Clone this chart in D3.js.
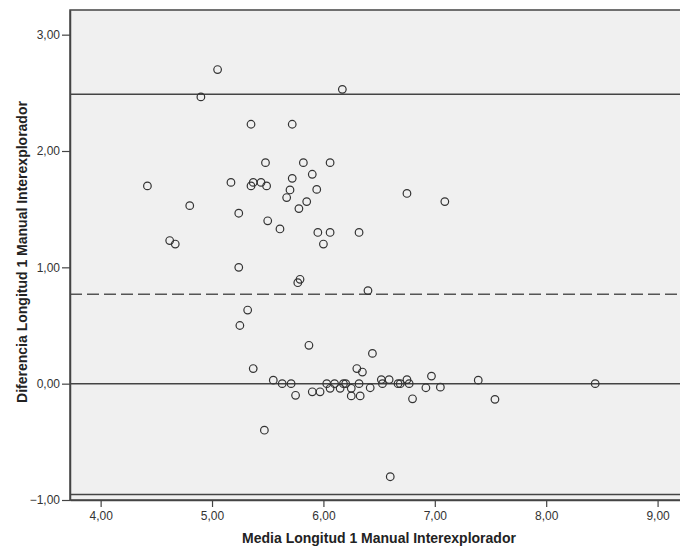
<!DOCTYPE html>
<html>
<head>
<meta charset="utf-8">
<script src="https://cdn.jsdelivr.net/npm/d3@7"></script>
<style>
  body { margin: 0; background: #fff; }
  text { font-family: Arial, "Liberation Sans", sans-serif; }
</style>
</head>
<body>
<svg id="bland-altman"></svg>
<script>
// datos (media, diferencia)
var media = [5.05, 4.90, 6.17, 5.35, 5.72,
  4.42, 5.17, 5.35, 5.37, 5.44, 5.49,
  5.48, 5.82, 6.06, 5.90, 5.72, 5.70, 5.94, 5.67, 5.85, 5.78,
  4.80, 5.24, 5.50, 5.61, 5.95, 6.06, 6.00, 4.62, 4.67, 5.24,
  6.75, 7.09, 6.32,
  5.77, 5.79,
  5.32, 5.25, 5.87, 5.37, 5.55, 5.63, 5.71, 5.75, 5.90, 5.97, 5.47,
  6.40, 6.44, 6.30, 6.35,
  6.03, 6.06, 6.10, 6.15, 6.18, 6.20, 6.25, 6.25, 6.33, 6.32, 6.42,
  6.52, 6.53, 6.59, 6.67, 6.69, 6.75, 6.77, 6.80, 6.92, 6.97, 7.05,
  7.39, 7.54, 8.44, 6.60];
var diferencia = [2.70, 2.465, 2.53, 2.23, 2.23,
  1.70, 1.73, 1.70, 1.73, 1.73, 1.70,
  1.90, 1.90, 1.90, 1.80, 1.765, 1.665, 1.67, 1.60, 1.565, 1.505,
  1.53, 1.465, 1.40, 1.33, 1.30, 1.30, 1.20, 1.23, 1.20, 1.00,
  1.635, 1.565, 1.30,
  0.868, 0.897,
  0.633, 0.50, 0.33, 0.13, 0.03, 0.00, 0.00, -0.10, -0.07, -0.07, -0.40,
  0.80, 0.26, 0.13, 0.10,
  0.00, -0.04, 0.00, -0.04, 0.00, 0.00, -0.04, -0.105, -0.105, 0.00, -0.035,
  0.035, 0.00, 0.035, 0.00, 0.00, 0.035, 0.00, -0.13, -0.035, 0.065, -0.03,
  0.03, -0.135, 0.00, -0.80];

// lineas de referencia
var limiteSuperior = 2.488;
var mediaDif = 0.768;
var cero = 0;
var limiteInferior = -0.952;

var xTicks = [4, 5, 6, 7, 8, 9];
var yTicks = [-1, 0, 1, 2, 3];

var xTitulo = "Media Longitud 1 Manual Interexplorador";
var yTitulo = "Diferencia Longitud 1 Manual Interexplorador";

var width = 680;
var height = 550;
var margin = {top: 10, left: 70, bottom: 50};

var svg = d3.select("#bland-altman")
  .attr("width", width)
  .attr("height", height);

var xScale = d3.scaleLinear()
  .domain([3.725, 9.3])
  .range([margin.left, 691]);

var yScale = d3.scaleLinear()
  .domain([-1, 3.212])
  .range([height - margin.bottom, margin.top]);

var coma = function(d) { return d3.format(".2f")(d).replace(".", ","); };

// fondo del area
svg.append("rect")
  .attr("x", margin.left)
  .attr("y", margin.top)
  .attr("width", 691 - margin.left)
  .attr("height", (height - margin.bottom) - margin.top)
  .attr("fill", "#f0f0f0")
  .attr("stroke", "#444")
  .attr("stroke-width", 1.5);

// lineas horizontales
[limiteSuperior, cero, limiteInferior].forEach(function(v) {
  svg.append("line")
    .attr("x1", margin.left)
    .attr("x2", 691)
    .attr("y1", yScale(v))
    .attr("y2", yScale(v))
    .attr("stroke", "#444")
    .attr("stroke-width", 1.5);
});

svg.append("line")
  .attr("x1", margin.left)
  .attr("x2", 691)
  .attr("y1", yScale(mediaDif))
  .attr("y2", yScale(mediaDif))
  .attr("stroke", "#555")
  .attr("stroke-width", 1.6)
  .attr("stroke-dasharray", "12,5");

// ejes
var xAxis = svg.append("g")
  .attr("transform", "translate(0," + (height - margin.bottom) + ")")
  .call(d3.axisBottom(xScale).tickValues(xTicks).tickFormat(coma).tickSize(7).tickSizeOuter(0));

var yAxis = svg.append("g")
  .attr("transform", "translate(" + margin.left + ",0)")
  .call(d3.axisLeft(yScale).tickValues(yTicks).tickFormat(coma).tickSize(8).tickSizeOuter(0));

[xAxis, yAxis].forEach(function(g) {
  g.select(".domain").attr("stroke", "#444").attr("stroke-width", 1.5);
  g.selectAll(".tick line").attr("stroke", "#444").attr("stroke-width", 1.2);
  g.selectAll(".tick text")
    .attr("fill", "#333")
    .style("font-size", "12px")
    .style("font-family", "Arial, 'Liberation Sans', sans-serif");
});
xAxis.selectAll(".tick text").attr("y", 11).attr("dy", "0.71em");
yAxis.selectAll(".tick text").attr("x", -10);

// puntos
var puntos = media.map(function(m, i) { return {x: m, y: diferencia[i]}; });

svg.selectAll("circle.punto")
  .data(puntos)
  .enter()
  .append("circle")
  .attr("class", "punto")
  .attr("cx", d => xScale(d.x))
  .attr("cy", d => yScale(d.y))
  .attr("r", 3.8)
  .attr("fill", "none")
  .attr("stroke", "#333")
  .attr("stroke-width", 1.2);

// titulos
svg.append("text")
  .attr("x", 379)
  .attr("y", 543)
  .attr("text-anchor", "middle")
  .attr("fill", "#222")
  .style("font-size", "14px")
  .style("font-weight", "bold")
  .text(xTitulo);

svg.append("text")
  .attr("transform", "translate(27,252) rotate(-90)")
  .attr("text-anchor", "middle")
  .attr("fill", "#222")
  .style("font-size", "14px")
  .style("font-weight", "bold")
  .text(yTitulo);
</script>
</body>
</html>
